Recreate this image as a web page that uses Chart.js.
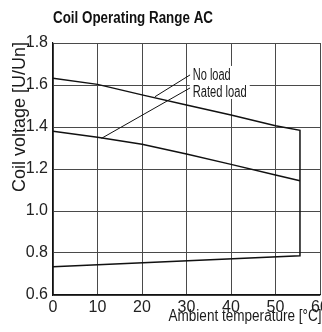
<!DOCTYPE html>
<html>
<head>
<meta charset="utf-8">
<script src="https://cdn.jsdelivr.net/npm/chart.js@4.4.1/dist/chart.umd.min.js"></script>
<style>
    html, body { margin: 0; padding: 0; background: #fff; overflow: hidden; }
    #wrap { width: 322px; height: 332px; position: relative; }
</style>
</head>
<body>
<div id="wrap"><canvas id="chart"></canvas></div>
<script>
// values
const temps = [0, 10, 20, 30, 40, 50, 55.5];
const noLoad = [1.632, 1.603, 1.553, 1.505, 1.457, 1.406, 1.384];
const ratedLoad = [1.38, 1.351, 1.318, 1.271, 1.222, 1.171, 1.144];
const pickUpTemps = [55.5, 0];
const pickUp = [0.787, 0.735];

const xTicks = [0, 10, 20, 30, 40, 50, 60];
const yTicks = [0.6, 0.8, 1.0, 1.2, 1.4, 1.6, 1.8];

// leader lines from the labels to the curves
const noLoadLeaderX = [30.8, 22.9];
const noLoadLeaderY = [1.648, 1.544];
const ratedLeaderX = [30.8, 10.9];
const ratedLeaderY = [1.586, 1.346];

const labelText = ['No load', 'Rated load'];
const labelX = 31.4;
const labelY = [1.624, 1.543];   // baselines

const FONT = "'Liberation Sans', Arial, sans-serif";

function toPoints(xs, ys) {
    return xs.map((x, i) => ({ x: x, y: ys[i] }));
}

// envelope: upper curve, down the right side, back along the bottom
const envelope = toPoints(temps, noLoad).concat(toPoints(pickUpTemps, pickUp));

// draws text squeezed to a given width (the original uses a condensed face)
function squeezed(ctx, text, x, y, width, align) {
    const w = ctx.measureText(text).width;
    const sx = width / w;
    ctx.save();
    ctx.translate(x, y);
    ctx.scale(sx, 1);
    ctx.textAlign = align;
    ctx.fillText(text, 0, 0);
    ctx.restore();
}

const textPlugin = {
    id: 'texts',
    beforeDatasetsDraw(chart) {
        const ctx = chart.ctx;
        const xs = chart.scales.x;
        const ys = chart.scales.y;
        const left = xs.getPixelForValue(labelX);
        const top = ys.getPixelForValue(labelY[0]) - 14;
        const bottom = ys.getPixelForValue(labelY[1]) + 2;
        ctx.save();
        ctx.fillStyle = '#fff';
        ctx.fillRect(left - 3, top, 60, bottom - top);
        ctx.fillStyle = '#1a1a1a';
        ctx.font = '16px ' + FONT;
        ctx.textBaseline = 'alphabetic';
        squeezed(ctx, labelText[0], left, ys.getPixelForValue(labelY[0]), 38, 'left');
        squeezed(ctx, labelText[1], left, ys.getPixelForValue(labelY[1]), 54, 'left');
        ctx.restore();
    },
    afterDraw(chart) {
        const ctx = chart.ctx;
        const area = chart.chartArea;
        ctx.save();
        ctx.textBaseline = 'alphabetic';
        ctx.fillStyle = '#111';
        ctx.font = 'bold 16px ' + FONT;
        squeezed(ctx, 'Coil Operating Range AC', area.left, 23, 160, 'left');

        ctx.fillStyle = '#1a1a1a';
        ctx.font = '16px ' + FONT;
        squeezed(ctx, 'Ambient temperature [°C]', 321.5, 321, 153, 'right');

        ctx.font = '18px ' + FONT;
        ctx.translate(25, 42);
        ctx.rotate(-Math.PI / 2);
        squeezed(ctx, 'Coil voltage [U/Un]', 0, 0, 150, 'right');
        ctx.restore();
    }
};

const lineStyle = {
    showLine: true,
    borderColor: '#111',
    borderWidth: 1.5,
    pointRadius: 0,
    fill: false,
    tension: 0
};

new Chart(document.getElementById('chart'), {
    type: 'scatter',
    data: {
        datasets: [
            Object.assign({ label: 'envelope', data: envelope }, lineStyle),
            Object.assign({ label: 'rated', data: toPoints(temps, ratedLoad) }, lineStyle),
            Object.assign({ label: 'leader1', data: toPoints(noLoadLeaderX, noLoadLeaderY) }, lineStyle, { borderWidth: 1 }),
            Object.assign({ label: 'leader2', data: toPoints(ratedLeaderX, ratedLeaderY) }, lineStyle, { borderWidth: 1 })
        ]
    },
    options: {
        responsive: true,
        maintainAspectRatio: false,
        animation: false,
        layout: { padding: { top: 43, right: 2, bottom: 0, left: 0 } },
        plugins: {
            legend: { display: false },
            tooltip: { enabled: false },
            title: { display: false }
        },
        scales: {
            x: {
                type: 'linear',
                min: 0,
                max: 60,
                afterBuildTicks: s => { s.ticks = xTicks.map(v => ({ value: v })); },
                afterFit: s => { s.paddingRight = 0; s.height = 37; },
                grid: { color: '#4a4a4a', lineWidth: 1, drawTicks: false },
                border: { color: '#111', width: 1.2 },
                ticks: { color: '#222', padding: 3, font: { family: FONT, size: 16 } }
            },
            y: {
                min: 0.6,
                max: 1.8,
                afterBuildTicks: s => { s.ticks = yTicks.map(v => ({ value: v })); },
                afterFit: s => { s.width = 53; },
                grid: { color: '#4a4a4a', lineWidth: 1, drawTicks: false },
                border: { color: '#111', width: 1.2 },
                ticks: {
                    color: '#222',
                    padding: 5,
                    font: { family: FONT, size: 16 },
                    callback: v => v.toFixed(1)
                }
            }
        }
    },
    plugins: [textPlugin]
});
</script>
</body>
</html>
